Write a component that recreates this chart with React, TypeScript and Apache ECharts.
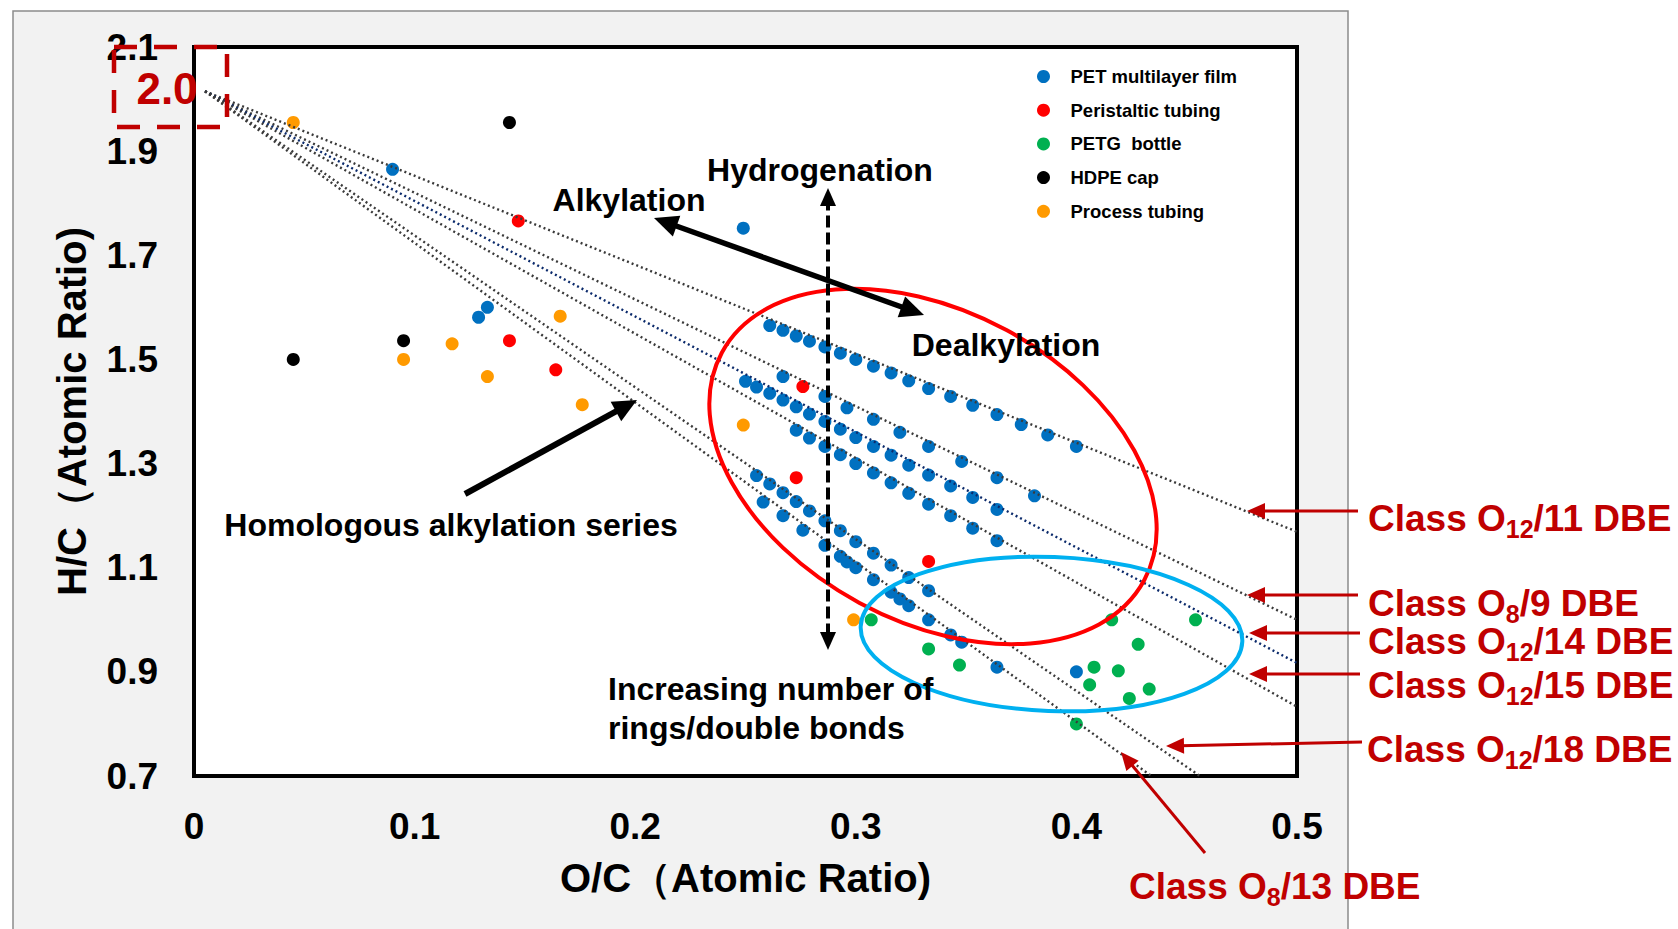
import React, { useEffect, useRef } from "react";
import * as echarts from "echarts";

type Pt = [number, number];

// PET multilayer film — homologous rows, [O/C, H/C]
const petO12Dbe11: Pt[] = [
  [0.261, 1.565], [0.267, 1.556], [0.273, 1.545], [0.279, 1.535], [0.286, 1.524],
  [0.293, 1.512], [0.3, 1.5], [0.308, 1.487], [0.316, 1.474], [0.324, 1.459],
  [0.333, 1.444], [0.343, 1.429], [0.353, 1.412], [0.364, 1.394], [0.375, 1.375],
  [0.387, 1.355], [0.4, 1.333],
];
const petO8Dbe9: Pt[] = [
  [0.267, 1.467], [0.286, 1.429], [0.296, 1.407], [0.308, 1.385], [0.32, 1.36],
  [0.333, 1.333], [0.348, 1.304], [0.364, 1.273], [0.381, 1.238],
];
const petO12Dbe14: Pt[] = [
  [0.25, 1.458], [0.255, 1.447], [0.261, 1.435], [0.267, 1.422], [0.273, 1.409],
  [0.279, 1.395], [0.286, 1.381], [0.293, 1.366], [0.3, 1.35], [0.308, 1.333],
  [0.316, 1.316], [0.324, 1.297], [0.333, 1.278], [0.343, 1.257], [0.353, 1.235],
  [0.364, 1.212],
];
const petO12Dbe15: Pt[] = [
  [0.273, 1.364], [0.279, 1.349], [0.286, 1.333], [0.293, 1.317], [0.3, 1.3],
  [0.308, 1.282], [0.316, 1.263], [0.324, 1.243], [0.333, 1.222], [0.343, 1.2],
  [0.353, 1.176], [0.364, 1.152],
];
const petO12Dbe18: Pt[] = [
  [0.255, 1.277], [0.261, 1.261], [0.267, 1.244], [0.273, 1.227], [0.279, 1.209],
  [0.286, 1.19], [0.293, 1.171], [0.3, 1.15], [0.308, 1.128], [0.316, 1.105],
  [0.324, 1.081], [0.333, 1.056],
];
const petO8Dbe13: Pt[] = [
  [0.258, 1.226], [0.267, 1.2], [0.276, 1.172], [0.286, 1.143], [0.293, 1.122],
  [0.296, 1.111], [0.3, 1.1], [0.308, 1.077], [0.316, 1.053], [0.32, 1.04],
  [0.324, 1.027], [0.333, 1.0], [0.343, 0.971], [0.348, 0.957], [0.364, 0.909],
];
const petOther: Pt[] = [
  [0.09, 1.865], [0.129, 1.581], [0.133, 1.6], [0.249, 1.752], [0.4, 0.9],
];

const peristalticTubing: Pt[] = [
  [0.147, 1.766], [0.143, 1.536], [0.164, 1.48], [0.276, 1.448], [0.273, 1.273], [0.333, 1.112],
];
const petgBottle: Pt[] = [
  [0.307, 1.0], [0.333, 0.944], [0.347, 0.913], [0.4, 0.8], [0.406, 0.875], [0.408, 0.909],
  [0.419, 0.902], [0.416, 1.0], [0.424, 0.849], [0.428, 0.953], [0.433, 0.867], [0.454, 1.0],
];
const hdpeCap: Pt[] = [[0.045, 1.5], [0.095, 1.536], [0.143, 1.955]];
const processTubing: Pt[] = [
  [0.045, 1.955], [0.095, 1.5], [0.117, 1.53], [0.133, 1.467], [0.166, 1.583],
  [0.176, 1.413], [0.249, 1.374], [0.299, 1.0],
];

const seriesNames = [
  "PET multilayer film",
  "Peristaltic tubing",
  "PETG  bottle",
  "HDPE cap",
  "Process tubing",
];

// Class guide lines: common origin and end points
const guideStart: Pt = [0.005, 2.015];
const guideEnds: Pt[] = [
  [0.5, 1.169], [0.5, 1.0], [0.5, 0.917], [0.5, 0.833], [0.456, 0.7], [0.434, 0.7],
];
const guideNames = ["O12/11 DBE", "O8/9 DBE", "O12/14 DBE", "O12/15 DBE", "O12/18 DBE", "O8/13 DBE"];

const xMin = 0, xMax = 0.5, xStep = 0.1;
const yMin = 0.7, yMax = 2.1, yStep = 0.2;

const FONT = '"Liberation Sans", Arial, Helvetica, sans-serif';
const DARK_RED = "#C00000";

type XY = [number, number];

function headPoints(tip: XY, from: XY, len: number, half: number): number[][] {
  const dx = tip[0] - from[0];
  const dy = tip[1] - from[1];
  const d = Math.hypot(dx, dy);
  const ux = dx / d, uy = dy / d;
  const bx = tip[0] - ux * len, by = tip[1] - uy * len;
  return [
    [tip[0], tip[1]],
    [bx - uy * half, by + ux * half],
    [bx + uy * half, by - ux * half],
  ];
}

function arrow(
  tail: XY, tip: XY, color: string, width: number, len: number, half: number,
  doubleHead = false, dash?: number[]
): any[] {
  const dx = tip[0] - tail[0];
  const dy = tip[1] - tail[1];
  const d = Math.hypot(dx, dy);
  const ux = dx / d, uy = dy / d;
  const inset = len * 0.8;
  const s: XY = doubleHead ? [tail[0] + ux * inset, tail[1] + uy * inset] : tail;
  const e: XY = [tip[0] - ux * inset, tip[1] - uy * inset];
  const out: any[] = [
    {
      type: "line",
      z: 20,
      shape: { x1: s[0], y1: s[1], x2: e[0], y2: e[1] },
      style: { stroke: color, lineWidth: width, lineDash: dash || null },
    },
    {
      type: "polygon",
      z: 20,
      shape: { points: headPoints(tip, tail, len, half) },
      style: { fill: color },
    },
  ];
  if (doubleHead) {
    out.push({
      type: "polygon",
      z: 20,
      shape: { points: headPoints(tail, tip, len, half) },
      style: { fill: color },
    });
  }
  return out;
}

function blackText(text: string, x: number, y: number, align = "center"): any {
  return {
    type: "text",
    z: 25,
    x,
    y,
    style: {
      text,
      fill: "#000",
      fontSize: 32,
      fontWeight: "bold",
      fontFamily: FONT,
      align,
      textAlign: align,
      verticalAlign: "middle",
      textVerticalAlign: "middle",
    },
  };
}

function classLabel(main: string, sub: string, rest: string, x: number, y: number): any {
  const base = { fill: DARK_RED, fontWeight: "bold", fontFamily: FONT };
  return {
    type: "text",
    z: 25,
    x,
    y,
    style: {
      text: `{m|${main}}{s|${sub}}{m|${rest}}`,
      fill: DARK_RED,
      align: "left",
      textAlign: "left",
      verticalAlign: "middle",
      textVerticalAlign: "middle",
      rich: {
        m: { ...base, fontSize: 37, lineHeight: 46 },
        s: { ...base, fontSize: 25, lineHeight: 20, verticalAlign: "bottom" },
      },
    },
  };
}

export default function App() {
  const ref = useRef<HTMLDivElement>(null);

  useEffect(() => {
    if (!ref.current) return;
    const chart = echarts.init(ref.current, undefined, { renderer: "svg" });

    const petAll = [
      ...petO12Dbe11, ...petO8Dbe9, ...petO12Dbe14, ...petO12Dbe15,
      ...petO12Dbe18, ...petO8Dbe13, ...petOther,
    ];
    const scatterSets: Pt[][] = [petAll, peristalticTubing, petgBottle, hdpeCap, processTubing];
    const scatterColors = ["#0070C0", "#FF0000", "#00B050", "#000000", "#FF9A00"];

    const scatterSeries = scatterSets.map((data, i) => ({
      name: seriesNames[i],
      type: "scatter",
      data,
      symbol: "circle",
      symbolSize: 13,
      itemStyle: { color: scatterColors[i], opacity: 1 },
      z: 3,
    }));

    const lineSeries = guideEnds.map((end, i) => ({
      name: guideNames[i],
      type: "line",
      data: [guideStart, end],
      symbol: "none",
      showSymbol: false,
      silent: true,
      z: 4,
      lineStyle: {
        color: i === 2 ? "#0B2A6B" : "#3A3A3A",
        width: 2.4,
        type: [2, 3],
      },
    }));

    const axisLabel = {
      fontSize: 37,
      fontWeight: "bold",
      color: "#000",
      fontFamily: FONT,
    };
    const nameStyle = {
      fontSize: 40,
      fontWeight: "bold",
      color: "#000",
      fontFamily: FONT,
    };

    const graphics: any[] = [
      // outer figure panel
      {
        type: "rect",
        z: -10,
        shape: { x: 13, y: 11, width: 1335, height: 940 },
        style: { fill: "#F2F2F2", stroke: "#8C8C8C", lineWidth: 1.5 },
      },
      // highlighted origin value
      {
        type: "rect",
        z: 22,
        shape: { x: 114, y: 47, width: 113, height: 80 },
        style: { fill: "none", stroke: DARK_RED, lineWidth: 4.5, lineDash: [23, 17] },
      },
      {
        type: "text",
        z: 23,
        x: 167,
        y: 88,
        style: {
          text: "2.0",
          fill: DARK_RED,
          fontSize: 44,
          fontWeight: "bold",
          fontFamily: FONT,
          align: "center",
          textAlign: "center",
          verticalAlign: "middle",
          textVerticalAlign: "middle",
        },
      },
      // grouping ellipses
      {
        type: "ellipse",
        z: 15,
        x: 933,
        y: 466.5,
        rotation: -0.494,
        shape: { cx: 0, cy: 0, rx: 240, ry: 155 },
        style: { fill: "none", stroke: "#FF0000", lineWidth: 4 },
      },
      {
        type: "ellipse",
        z: 15,
        x: 1051.5,
        y: 634,
        rotation: -0.04,
        shape: { cx: 0, cy: 0, rx: 191, ry: 77 },
        style: { fill: "none", stroke: "#00B0F0", lineWidth: 4 },
      },
      // reaction arrows
      ...arrow([654, 218], [924, 315], "#000", 5.5, 24, 11, true),
      ...arrow([465, 494], [637, 400], "#000", 6, 24, 11),
      ...arrow([828, 650], [828, 188], "#000", 4, 18, 8, true, [12, 5]),
      // class pointers
      ...arrow([1358, 511], [1247, 511], DARK_RED, 3, 18, 8),
      ...arrow([1358, 595], [1247, 595], DARK_RED, 3, 18, 8),
      ...arrow([1360, 633], [1249, 633], DARK_RED, 3, 18, 8),
      ...arrow([1360, 674], [1249, 674], DARK_RED, 3, 18, 8),
      ...arrow([1362, 742], [1166, 746], DARK_RED, 3, 18, 8),
      ...arrow([1205, 853], [1121, 752], DARK_RED, 3, 18, 8),
      // annotations
      blackText("Hydrogenation", 820, 170),
      blackText("Alkylation", 629, 200),
      blackText("Dealkylation", 1006, 345),
      blackText("Homologous alkylation series", 451, 525),
      blackText("Increasing number of", 608, 689, "left"),
      blackText("rings/double bonds", 608, 728, "left"),
      classLabel("Class O", "12", "/11 DBE", 1368, 518),
      classLabel("Class O", "8", "/9 DBE", 1368, 603),
      classLabel("Class O", "12", "/14 DBE", 1368, 641),
      classLabel("Class O", "12", "/15 DBE", 1368, 685),
      classLabel("Class O", "12", "/18 DBE", 1367, 749),
      classLabel("Class O", "8", "/13 DBE", 1129, 886),
    ];

    chart.setOption({
      animation: false,
      backgroundColor: "#FFFFFF",
      textStyle: { fontFamily: FONT },
      grid: {
        left: 194,
        top: 47,
        width: 1103,
        height: 729,
        show: true,
        backgroundColor: "#FFFFFF",
        borderColor: "#000000",
        borderWidth: 4,
        containLabel: false,
      },
      legend: {
        data: seriesNames,
        orient: "vertical",
        left: 1032,
        top: 62,
        itemWidth: 44,
        itemHeight: 13,
        itemGap: 14.7,
        icon: "circle",
        selectedMode: false,
        textStyle: {
          fontSize: 18.5,
          fontWeight: "bold",
          color: "#000",
          fontFamily: FONT,
          lineHeight: 13,
        },
      },
      xAxis: {
        type: "value",
        min: xMin,
        max: xMax,
        interval: xStep,
        name: "O/C（Atomic Ratio)",
        nameLocation: "middle",
        nameGap: 82,
        nameTextStyle: nameStyle,
        axisLine: { show: false },
        axisTick: { show: false },
        splitLine: { show: false },
        axisLabel: { ...axisLabel, margin: 32 },
      },
      yAxis: {
        type: "value",
        min: yMin,
        max: yMax,
        interval: yStep,
        name: "H/C（Atomic Ratio)",
        nameLocation: "middle",
        nameRotate: 90,
        nameGap: 102,
        nameTextStyle: nameStyle,
        axisLine: { show: false },
        axisTick: { show: false },
        splitLine: { show: false },
        axisLabel: { ...axisLabel, margin: 36 },
      },
      series: [...scatterSeries, ...lineSeries],
      graphic: graphics,
    });

    return () => chart.dispose();
  }, []);

  return (
    <div
      ref={ref}
      style={{ position: "absolute", left: 0, top: 0, width: 1678, height: 929 }}
    />
  );
}
